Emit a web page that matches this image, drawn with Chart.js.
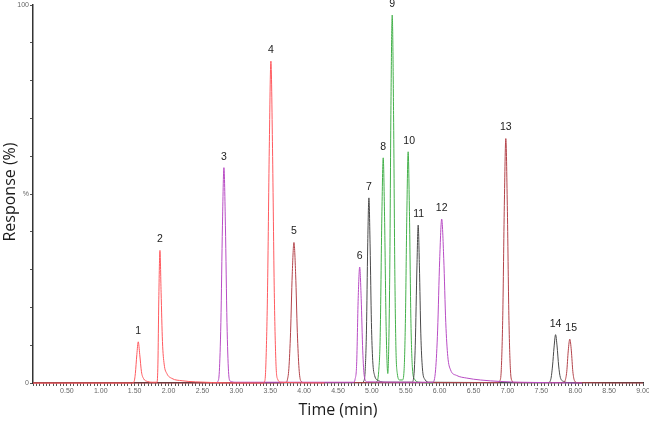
<!DOCTYPE html>
<html>
<head>
<meta charset="utf-8">
<script src="https://cdn.jsdelivr.net/npm/chart.js@4/dist/chart.umd.min.js"></script>
<style>
  html, body { margin: 0; padding: 0; background: #ffffff; }
  #wrap { width: 649px; height: 422px; }
</style>
</head>
<body>
<div id="wrap"><canvas id="c" width="649" height="422"></canvas></div>
<script>
// ---- Data (time in min, response in %) ----
const redTime = [0, 1.45, 1.49, 1.51, 1.532, 1.553, 1.575, 1.60, 1.63, 1.69, 1.76, 1.83, 1.843, 1.856, 1.873, 1.89, 1.91, 1.935, 1.975, 2.05, 2.2, 2.4, 3.39, 3.42, 3.435, 3.46, 3.486, 3.51, 3.534, 3.56, 3.585, 3.61, 3.66, 4.3];
const redResp = [0, 0, 0.3, 2.5, 7.5, 10.9, 7.5, 3, 1.2, 0.4, 0.2, 0.2, 5, 22, 35.1, 24, 11, 5, 2.5, 1.2, 0.6, 0.3, 0, 0.5, 4.5, 24, 62, 85.2, 62, 24, 5, 1, 0.2, 0];

const purpleTime = [2.7, 2.727, 2.749, 2.772, 2.795, 2.817, 2.839, 2.862, 2.885, 2.91, 3.0, 4.73, 4.752, 4.775, 4.798, 4.82, 4.842, 4.865, 4.888, 4.93, 5.90, 5.94, 5.97, 6.0, 6.03, 6.06, 6.09, 6.12, 6.16, 6.25, 6.4, 6.6, 6.9, 7.2, 8.1];
const purpleResp = [0, 0.4, 3, 16, 41.6, 57, 41.6, 16, 3, 0.5, 0.2, 0.2, 1, 5, 22.4, 30.7, 22.4, 8.5, 1.8, 0.3, 0.2, 3.5, 14, 32.5, 43.4, 33, 16, 7, 3.5, 2, 1.3, 0.8, 0.4, 0.2, 0];

const darkRedTime = [0, 3.6, 3.74, 3.75, 3.775, 3.80, 3.825, 3.85, 3.875, 3.90, 3.925, 3.95, 4.0, 6.87, 6.888, 6.909, 6.931, 6.954, 6.976, 6.998, 7.021, 7.044, 7.07, 7.1, 7.82, 7.85, 7.875, 7.897, 7.92, 7.943, 7.965, 7.99, 8.03, 9.0];
const darkRedResp = [0, 0, 0.2, 0.6, 3.8, 13.4, 28.8, 37.2, 28.8, 13.4, 3.8, 0.6, 0.1, 0.1, 0.5, 3.5, 17.8, 47, 64.7, 47, 17.8, 3.5, 0.5, 0.1, 0.1, 0.6, 3, 8.5, 11.6, 8.5, 3, 0.6, 0.1, 0];

const grayTime = [4.85, 4.88, 4.90, 4.92, 4.938, 4.956, 4.974, 4.993, 5.012, 5.04, 5.1, 5.2, 5.59, 5.62, 5.64, 5.665, 5.683, 5.701, 5.722, 5.745, 5.78, 5.85, 7.6, 7.64, 7.665, 7.688, 7.71, 7.732, 7.756, 7.78, 7.83, 7.9, 8.1];
const grayResp = [0, 0.5, 3, 14, 36, 49, 36, 16, 6, 2, 0.6, 0.2, 0.2, 2, 10, 31, 41.8, 31, 13, 4, 1, 0.2, 0.1, 1, 4.5, 9.5, 12.8, 9.8, 4.5, 1.5, 0.4, 0.1, 0];

const greenTime = [5.0, 5.07, 5.10, 5.122, 5.147, 5.167, 5.187, 5.21, 5.235, 5.248, 5.265, 5.28, 5.30, 5.32, 5.337, 5.355, 5.375, 5.41, 5.45, 5.475, 5.495, 5.515, 5.535, 5.555, 5.575, 5.598, 5.63, 5.7, 5.9];
const greenResp = [0, 0.3, 3, 12, 44, 59.6, 44, 15, 2.5, 9, 32, 71, 97.4, 71, 32, 9, 2.5, 0.8, 0.8, 3.4, 17, 44, 61.2, 44, 17, 4, 1, 0.2, 0];

const peakNames = ["1", "2", "3", "4", "5", "6", "7", "8", "9", "10", "11", "12", "13", "14", "15"];
const peakTimes = [1.553, 1.873, 2.817, 3.51, 3.85, 4.82, 4.956, 5.167, 5.30, 5.55, 5.69, 6.03, 6.976, 7.71, 7.94];
const peakHeights = [10.9, 35.1, 57, 85.2, 37.2, 30.7, 49, 59.6, 97.4, 61.2, 41.8, 43.4, 64.7, 12.8, 11.6];

const yTickLabels = { 0: "0", 50: "%", 100: "100" };
const xTitle = "Time (min)";
const yTitle = "Response (%)";

function pts(t, r) { return t.map((x, i) => ({ x: x, y: r[i] })); }

const series = [
  { label: "red", t: redTime, r: redResp, color: "#ff5a5f" },
  { label: "purple", t: purpleTime, r: purpleResp, color: "#b84cc4" },
  { label: "darkred", t: darkRedTime, r: darkRedResp, color: "#b3434a" },
  { label: "gray", t: grayTime, r: grayResp, color: "#4a4a4a" },
  { label: "green", t: greenTime, r: greenResp, color: "#43b04a" }
];

const peakLabelPlugin = {
  id: "peakLabels",
  afterDatasetsDraw(chart) {
    const ctx = chart.ctx;
    const xs = chart.scales.x, ys = chart.scales.y;
    ctx.save();
    ctx.fillStyle = "#222";
    ctx.font = "10.5px 'Liberation Sans', Arial, sans-serif";
    ctx.textAlign = "center";
    ctx.textBaseline = "middle";
    peakNames.forEach((n, i) => {
      const px = xs.getPixelForValue(peakTimes[i]);
      const py = ys.getPixelForValue(peakHeights[i]);
      ctx.fillText(n, px, py - 11);
    });
    ctx.restore();
  }
};

const titlePlugin = {
  id: "axisTitles",
  afterDraw(chart) {
    const ctx = chart.ctx;
    const ca = chart.chartArea;
    ctx.save();
    ctx.fillStyle = "#1a1a1a";
    ctx.font = "16px 'Open Sans', sans-serif";
    ctx.textAlign = "center";
    ctx.textBaseline = "middle";
    ctx.fillText(xTitle, (ca.left + ca.right) / 2, 410);
    ctx.translate(10, 192);
    ctx.rotate(-Math.PI / 2);
    ctx.fillText(yTitle, 0, 0);
    ctx.restore();
  }
};

new Chart(document.getElementById("c"), {
  type: "line",
  data: {
    datasets: series.map(s => ({
      label: s.label,
      data: pts(s.t, s.r),
      borderColor: s.color,
      backgroundColor: s.color,
      borderWidth: 1,
      pointRadius: 0,
      fill: false,
      cubicInterpolationMode: "monotone",
      clip: 3
    }))
  },
  options: {
    responsive: false,
    animation: false,
    devicePixelRatio: 1,
    layout: { padding: { top: 4, right: 6, left: 0, bottom: 0 } },
    plugins: { legend: { display: false }, tooltip: { enabled: false } },
    scales: {
      x: {
        type: "linear",
        min: 0, max: 9,
        afterFit(scale) { scale.height = 39; scale.paddingRight = 0; scale.paddingLeft = 0; },
        border: { color: "#333", width: 1.2 },
        grid: { drawOnChartArea: false, tickLength: 3, tickColor: "#555", tickWidth: 1 },
        ticks: {
          stepSize: 0.05,
          autoSkip: false,
          maxRotation: 0,
          padding: 1,
          color: "#666",
          font: { size: 7, family: "'Liberation Sans', Arial, sans-serif" },
          callback(v) {
            const d = v * 2;
            if (v > 0 && Math.abs(d - Math.round(d)) < 1e-6) return v.toFixed(2);
            return "";
          }
        }
      },
      y: {
        min: 0, max: 100,
        afterFit(scale) { scale.width = 33; },
        border: { color: "#333", width: 1.5 },
        grid: { drawOnChartArea: false, tickLength: 3, tickColor: "#555", tickWidth: 1 },
        ticks: {
          stepSize: 10,
          autoSkip: false,
          padding: 1,
          color: "#666",
          font: { size: 7, family: "'Liberation Sans', Arial, sans-serif" },
          callback(v) { return yTickLabels[Math.round(v)] !== undefined && Math.abs(v - Math.round(v)) < 1e-6 ? yTickLabels[Math.round(v)] : ""; }
        }
      }
    }
  },
  plugins: [peakLabelPlugin, titlePlugin]
});
</script>
</body>
</html>
